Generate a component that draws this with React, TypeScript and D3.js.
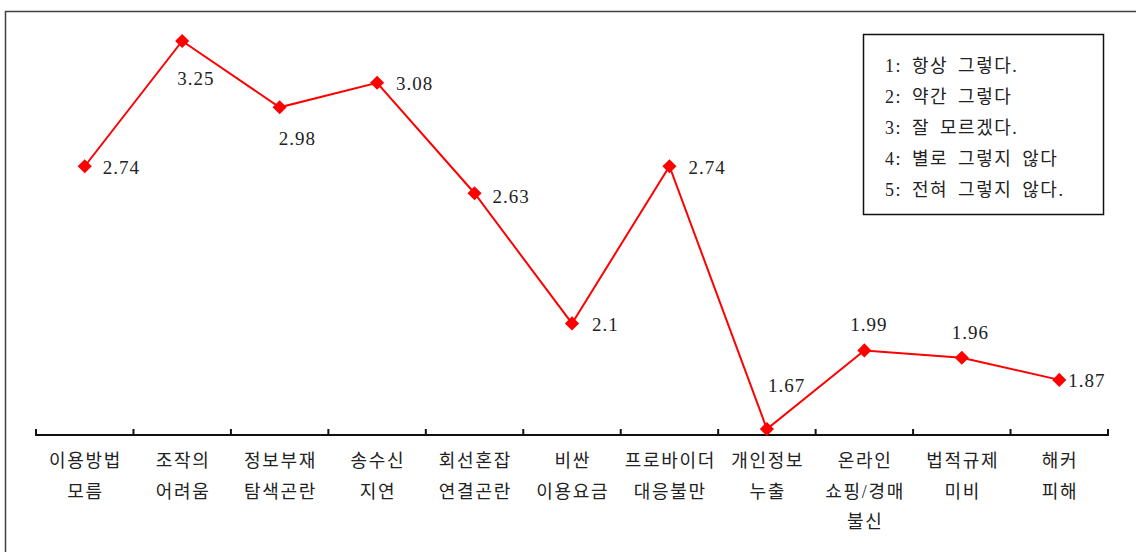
import React from "react";
import * as d3 from "d3";

const categories: string[][] = [
  ["이용방법", "모름"],
  ["조작의", "어려움"],
  ["정보부재", "탐색곤란"],
  ["송수신", "지연"],
  ["회선혼잡", "연결곤란"],
  ["비싼", "이용요금"],
  ["프로바이더", "대응불만"],
  ["개인정보", "누출"],
  ["온라인", "쇼핑/경매", "불신"],
  ["법적규제", "미비"],
  ["해커", "피해"],
];

const values: number[] = [2.74, 3.25, 2.98, 3.08, 2.63, 2.1, 2.74, 1.67, 1.99, 1.96, 1.87];
const valueLabels: string[] = ["2.74", "3.25", "2.98", "3.08", "2.63", "2.1", "2.74", "1.67", "1.99", "1.96", "1.87"];

const legendItems: string[] = [
  "1: 항상 그렇다.",
  "2: 약간 그렇다",
  "3: 잘 모르겠다.",
  "4: 별로 그렇지 않다",
  "5: 전혀 그렇지 않다.",
];

// label offsets (dx from point to label start, dy from point to label center)
const labelOffsets: [number, number][] = [
  [18, 1], [-5, 37], [-1, 31], [19, 1], [18, 3], [20, 1], [19, 1], [1, -44], [-14, -26], [-10, -25], [9, 1],
];

const W = 1136;
const H = 552;
const KR = "'Liberation Serif', 'Noto Sans CJK KR', serif";
const TXT = "#222";

export default function App() {
  const x = d3.scaleBand<number>().domain(d3.range(categories.length)).range([36, 1108]);
  const y = d3.scaleLinear().domain([1.67, 3.25]).range([429, 41]);
  const axisY = 435;
  const cx = (i: number) => (x(i) as number) + x.bandwidth() / 2;

  const line = d3
    .line<number>()
    .x((_, i) => cx(i))
    .y((d) => y(d));

  const diamond = d3.symbol(d3.symbolSquare, 100)() as string;

  const ticks = d3.range(categories.length + 1).map((i) =>
    i < categories.length ? (x(i) as number) : (x(categories.length - 1) as number) + x.bandwidth()
  );

  const catLS = 1.7;

  return (
    <svg
      width={W}
      height={H}
      style={{ position: "absolute", left: 0, top: 0, background: "#fff" }}
      fontFamily={KR}
    >
      <rect x={5.5} y={11.5} width={1200} height={600} fill="#fff" stroke="#404040" strokeWidth={1.5} />

      {/* axis */}
      <line x1={ticks[0]} x2={ticks[ticks.length - 1]} y1={axisY} y2={axisY} stroke="#111" strokeWidth={2} />
      {ticks.map((t, i) => (
        <line key={i} x1={t} x2={t} y1={axisY + 1} y2={axisY - 6} stroke="#111" strokeWidth={2} />
      ))}

      {/* category labels */}
      {categories.map((lines, i) => (
        <text key={i} x={cx(i)} textAnchor="middle" fontSize={18} letterSpacing={catLS} fill={TXT}>
          {lines.map((l, j) => (
            <tspan key={j} x={cx(i) + catLS / 2} y={467 + j * 30.5}>
              {l}
            </tspan>
          ))}
        </text>
      ))}

      {/* line */}
      <path d={line(values) as string} fill="none" stroke="#ff0000" strokeWidth={2} />
      {values.map((v, i) => (
        <path key={i} d={diamond} transform={`translate(${cx(i)},${y(v)}) rotate(45)`} fill="#ff0000" />
      ))}

      {/* value labels */}
      {values.map((v, i) => (
        <text
          key={i}
          x={cx(i) + labelOffsets[i][0]}
          y={y(v) + labelOffsets[i][1]}
          dominantBaseline="central"
          fontSize={19}
          letterSpacing={1}
          fill={TXT}
        >
          {valueLabels[i]}
        </text>
      ))}

      {/* legend */}
      <rect x={863.5} y={34.5} width={240} height={180} fill="#fff" stroke="#111" strokeWidth={1.5} />
      {legendItems.map((t, i) => (
        <text
          key={i}
          x={885}
          y={66 + i * 31}
          dominantBaseline="central"
          fontSize={18}
          letterSpacing={1.5}
          wordSpacing={4}
          fill={TXT}
        >
          {t}
        </text>
      ))}
    </svg>
  );
}
